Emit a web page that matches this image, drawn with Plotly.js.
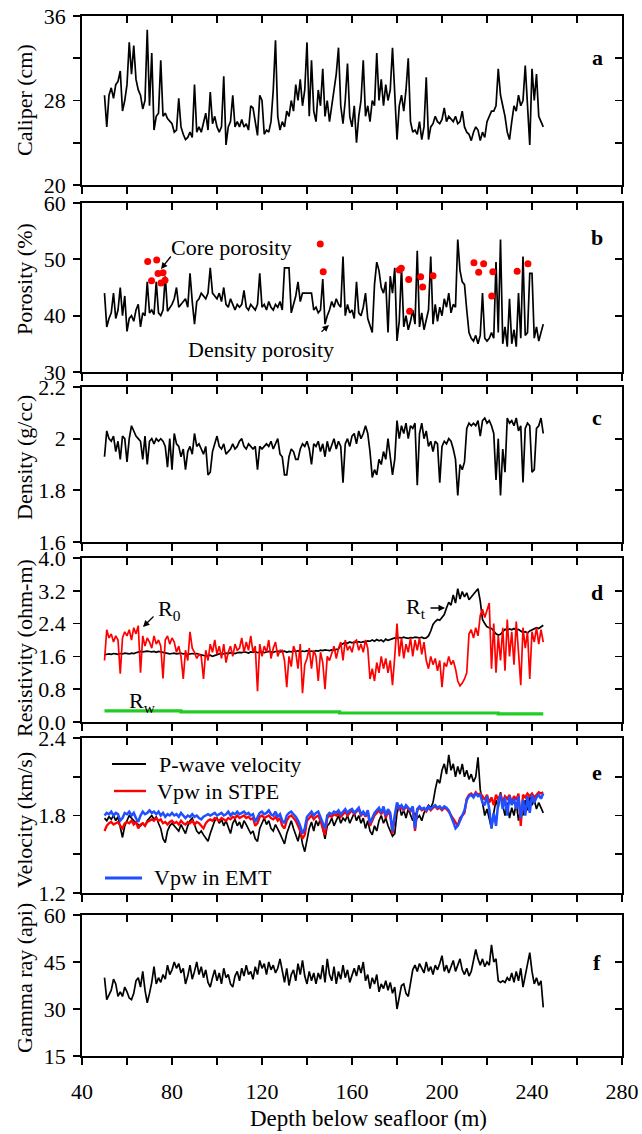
<!DOCTYPE html>
<html>
<head>
<meta charset="utf-8">
<script src="https://cdn.plot.ly/plotly-3.0.1.min.js"></script>
<style>html,body{margin:0;padding:0;background:#fff}#chart{width:642px;height:1134px}</style>
</head>
<body>
<div id="chart"></div>
<script>
// ---------------- DATA ----------------
const depth = [
 50,51,52,53,54,55,56,57,58,59, 60,61,62,63,64,65,66,67,68,69,
 70,71,72,73,74,75,76,77,78,79, 80,81,82,83,84,85,86,87,88,89,
 90,91,92,93,94,95,96,97,98,99, 100,101,102,103,104,105,106,107,108,109,
 110,111,112,113,114,115,116,117,118,119, 120,121,122,123,124,125,126,127,128,129,
 130,131,132,133,134,135,136,137,138,139, 140,141,142,143,144,145,146,147,148,149,
 150,151,152,153,154,155,156,157,158,159, 160,161,162,163,164,165,166,167,168,169,
 170,171,172,173,174,175,176,177,178,179, 180,181,182,183,184,185,186,187,188,189,
 190,191,192,193,194,195,196,197,198,199, 200,201,202,203,204,205,206,207,208,209,
 210,211,212,213,214,215,216,217,218,219, 220,221,222,223,224,225,226,227,228,229,
 230,231,232,233,234,235,236,237,238,239, 240,241,242,243,244,245
];

const caliper = [
 28.5,25.5,28.5,29.2,28.2,29.5,29.8,30.8,27.0,28.0,
 29.5,33.5,30.5,33.2,30.0,29.0,28.5,27.2,28.0,34.7,
 27.5,32.5,25.2,26.5,26.8,31.8,26.5,26.8,26.3,26.0,
 25.8,25.0,25.2,28.2,25.5,24.8,24.3,24.5,25.0,24.5,
 29.5,25.0,25.5,25.0,26.0,26.8,25.2,28.8,25.8,26.5,
 25.5,25.0,25.5,30.3,23.8,25.5,26.0,28.5,25.5,26.0,
 25.5,26.2,25.5,25.8,25.2,27.5,27.3,26.0,24.7,28.5,
 28.0,24.8,25.2,25.0,26.0,29.0,33.7,26.5,25.2,26.0,
 25.5,27.0,26.5,28.0,27.0,29.5,28.0,30.0,27.5,29.0,
 33.5,26.5,31.8,27.0,26.0,29.0,27.5,31.0,26.5,28.0,
 26.0,27.5,29.0,30.5,33.0,27.5,25.8,28.0,31.5,26.5,
 25.5,27.5,24.0,26.5,28.0,31.8,26.5,27.5,26.0,28.0,
 27.5,32.5,28.0,30.0,27.5,29.5,28.0,29.0,33.0,28.5,
 24.3,27.5,28.5,27.0,29.0,32.0,26.0,25.0,25.2,24.8,
 26.0,24.3,25.5,30.2,24.3,25.5,25.8,26.5,26.0,25.8,
 26.2,27.3,26.0,26.5,26.2,26.0,26.5,25.8,26.0,27.0,
 25.5,25.0,24.8,24.2,25.0,25.5,25.2,24.2,25.0,24.5,
 26.0,26.5,27.0,27.0,27.5,31.0,28.5,27.5,26.5,25.0,
 24.3,26.0,27.5,27.0,28.5,27.5,28.0,31.3,27.0,23.8,
 31.0,28.0,30.5,26.5,26.0,25.5
];

const densityPorosity = [
 44.0,38.0,39.5,40.5,44.0,39.5,41.0,45.0,40.0,43.5,
 37.2,39.5,40.0,39.0,41.0,42.0,38.0,40.5,40.0,46.0,
 40.5,41.0,40.2,46.0,40.5,40.0,41.0,47.0,40.8,41.5,
 42.0,43.0,45.0,41.5,42.0,42.5,43.0,41.5,47.5,42.5,
 38.5,42.5,43.0,44.0,43.5,43.0,44.0,48.5,44.0,43.5,
 43.0,44.0,42.5,45.0,42.0,41.5,43.0,42.0,41.0,42.0,
 41.5,42.0,44.5,41.5,41.0,42.0,41.5,41.0,42.0,47.5,
 41.5,42.0,41.0,42.5,41.5,41.0,42.0,41.5,42.5,41.0,
 48.5,48.5,48.5,40.5,42.0,43.5,46.0,42.5,44.0,44.0,
 44.0,44.0,44.0,41.0,41.5,40.5,41.0,46.5,38.5,40.0,
 41.0,42.5,41.5,43.0,42.0,41.5,50.5,40.0,42.0,40.5,
 41.0,39.5,46.0,40.5,40.0,41.5,44.0,39.5,38.0,37.0,
 45.5,49.5,48.0,45.0,44.0,46.0,37.0,47.0,44.0,48.5,
 35.5,39.0,48.5,38.0,40.0,37.5,39.0,41.0,38.5,51.5,
 38.0,40.5,37.5,39.5,41.0,50.5,38.5,42.0,39.0,41.5,
 40.0,43.0,41.5,44.0,40.5,42.0,41.5,53.5,48.0,46.0,
 45.5,41.0,37.0,36.0,35.5,36.5,35.0,36.5,44.0,36.0,
 35.5,36.0,37.0,36.0,49.5,37.0,53.5,35.0,38.0,34.5,
 43.0,35.0,37.5,34.5,44.0,36.0,50.5,36.5,37.0,47.5,
 47.5,36.0,38.0,35.5,37.0,38.5
];

const coreDepth = [69.2,70.9,73.2,73.8,75.1,76.0,76.9,145.9,147.2,181.0,181.9,185.2,185.6,190.5,191.4,196.0,214.2,216.3,218.5,222.1,222.6,233.4,238.2];
const corePorosity = [49.6,46.2,49.9,47.5,45.8,47.6,46.3,52.7,47.8,48.1,48.4,46.4,40.8,46.9,45.1,47.1,49.4,47.7,49.2,43.5,47.8,47.9,49.2];

const bulkDensity = [
 1.93,2.03,2.00,1.99,2.01,1.95,1.99,1.92,2.01,2.00,
 1.91,2.00,2.05,2.03,2.01,2.00,1.99,1.92,2.01,1.90,
 1.99,2.00,1.98,2.00,1.99,2.00,1.99,1.97,1.89,2.00,
 1.88,2.02,1.98,1.97,1.93,1.96,1.88,1.95,1.97,1.94,
 2.02,1.97,1.98,1.96,1.94,1.97,1.86,1.87,1.95,1.98,
 2.01,1.97,1.96,1.98,1.94,1.95,1.96,1.98,1.96,1.97,
 1.99,2.00,1.97,1.96,1.98,1.97,1.96,1.97,1.88,1.97,
 1.96,1.97,1.98,1.97,1.99,1.96,1.98,2.00,1.94,1.93,
 1.86,1.86,1.93,1.96,1.95,1.92,1.92,1.96,1.98,1.97,
 1.99,1.96,1.90,1.98,1.97,1.99,1.95,1.98,1.93,1.99,
 1.95,1.98,2.00,1.96,1.99,1.97,1.83,1.98,2.00,1.97,
 2.01,2.02,1.98,2.03,2.00,2.02,2.05,2.02,1.95,1.85,
 1.88,1.86,1.92,1.90,1.95,1.92,2.00,1.93,1.86,1.92,
 2.07,2.00,2.05,2.02,2.06,2.00,2.05,2.04,2.06,1.82,
 2.02,2.06,2.00,2.03,1.97,1.99,1.95,1.99,1.98,1.83,
 1.97,1.99,1.98,2.00,1.99,1.96,1.92,1.78,1.90,1.88,
 1.91,2.04,2.06,2.05,2.06,2.05,2.07,2.01,2.07,2.08,
 2.06,2.07,2.05,2.02,1.84,2.00,1.78,1.96,1.87,2.08,
 2.06,2.07,2.05,2.08,2.03,2.05,1.83,2.04,2.06,2.05,
 1.87,1.88,2.04,2.05,2.08,2.02
];

const resistivityRt = [
 1.64,1.65,1.66,1.65,1.67,1.66,1.65,1.67,1.66,1.68,
 1.67,1.66,1.68,1.67,1.69,1.71,1.72,1.71,1.72,1.73,
 1.72,1.71,1.72,1.70,1.72,1.71,1.70,1.68,1.67,1.66,
 1.67,1.68,1.66,1.67,1.68,1.66,1.67,1.65,1.66,1.67,
 1.66,1.67,1.65,1.64,1.62,1.61,1.62,1.63,1.60,1.62,
 1.65,1.66,1.67,1.66,1.68,1.67,1.69,1.68,1.67,1.69,
 1.70,1.69,1.71,1.70,1.68,1.71,1.70,1.72,1.69,1.70,
 1.71,1.69,1.70,1.72,1.71,1.70,1.72,1.73,1.71,1.72,
 1.73,1.70,1.72,1.71,1.73,1.72,1.74,1.71,1.73,1.72,
 1.74,1.72,1.73,1.71,1.74,1.73,1.75,1.74,1.76,1.75,
 1.74,1.76,1.75,1.77,1.78,1.88,1.92,1.94,1.92,1.95,
 1.93,1.95,1.94,1.96,1.94,1.96,1.95,1.98,1.97,2.00,
 1.97,2.01,1.98,2.00,1.96,2.02,1.99,2.01,2.03,2.05,
 2.04,2.06,2.05,2.07,2.05,2.04,2.06,2.05,2.07,2.06,
 2.05,2.07,2.04,2.05,2.10,2.22,2.38,2.45,2.50,2.48,
 2.55,2.62,2.78,2.92,2.85,3.10,2.90,3.25,3.00,3.18,
 3.05,3.15,2.98,3.05,3.12,3.20,3.25,2.95,2.50,2.40,
 2.32,2.30,2.28,2.22,2.15,2.12,2.14,2.20,2.26,2.24,
 2.27,2.25,2.28,2.24,2.26,2.22,2.18,2.20,2.17,2.22,
 2.25,2.28,2.30,2.28,2.32,2.36
];

const resistivityR0 = [
 1.50,2.25,2.05,2.15,1.95,2.10,2.00,1.18,2.05,2.20,
 2.10,2.25,2.00,2.30,2.15,2.35,1.20,2.10,1.85,2.05,
 1.95,1.80,2.10,1.90,2.00,1.85,1.06,2.00,2.10,1.90,
 2.05,1.95,1.70,1.85,1.60,1.05,1.75,1.50,2.20,1.80,
 1.70,1.55,1.65,1.60,1.05,1.75,1.50,1.90,1.70,2.00,
 1.65,1.85,1.55,1.90,1.45,1.70,1.85,1.60,1.90,1.75,
 1.80,2.05,1.70,1.95,1.75,2.10,1.70,1.85,0.75,1.90,
 1.60,1.85,1.70,2.00,1.55,1.80,1.95,1.60,1.75,1.75,
 1.50,0.85,1.60,1.35,1.85,1.70,1.30,1.90,0.70,1.40,
 1.55,1.80,1.30,1.75,1.60,1.00,1.70,1.45,0.80,1.60,
 1.50,1.70,1.85,1.55,1.80,1.95,1.50,2.00,1.75,1.85,
 1.70,1.95,2.00,1.75,1.90,1.70,2.00,1.80,1.05,1.30,
 1.00,1.45,1.20,1.60,1.30,1.55,1.20,1.50,0.90,1.60,
 2.40,1.60,2.05,1.55,1.90,1.70,2.05,1.60,2.00,1.75,
 2.05,1.65,1.95,1.50,1.30,1.60,1.40,1.55,1.25,1.50,
 0.85,1.45,1.35,1.60,1.40,1.50,1.30,1.00,0.88,0.95,
 1.05,1.20,2.15,2.25,2.05,2.30,2.10,2.60,2.75,2.55,
 2.70,2.90,1.30,2.40,1.20,2.10,1.50,2.30,1.25,2.50,
 1.60,2.20,1.40,2.45,1.70,0.90,2.30,1.80,2.20,1.05,
 2.20,1.95,2.30,1.90,2.25,1.95
];

const rwDepth = [50, 84, 84, 154.5, 154.5, 225, 225, 245];
const resistivityRw = [0.27, 0.27, 0.245, 0.245, 0.22, 0.22, 0.20, 0.20];

const pwaveVelocity = [
 1.78,1.76,1.79,1.77,1.80,1.76,1.79,1.70,1.63,1.72,
 1.76,1.80,1.78,1.76,1.74,1.73,1.72,1.74,1.72,1.76,
 1.78,1.80,1.77,1.79,1.74,1.70,1.62,1.59,1.68,1.72,
 1.74,1.72,1.70,1.68,1.73,1.70,1.66,1.72,1.76,1.78,
 1.72,1.68,1.66,1.68,1.65,1.62,1.60,1.66,1.72,1.76,
 1.78,1.74,1.77,1.72,1.76,1.70,1.66,1.74,1.77,1.72,
 1.75,1.70,1.76,1.73,1.70,1.66,1.68,1.62,1.60,1.70,
 1.74,1.78,1.73,1.76,1.70,1.68,1.73,1.70,1.66,1.62,
 1.58,1.66,1.72,1.76,1.70,1.65,1.60,1.68,1.58,1.52,
 1.62,1.70,1.75,1.68,1.76,1.72,1.78,1.70,1.62,1.72,
 1.74,1.78,1.72,1.76,1.80,1.74,1.78,1.76,1.80,1.74,
 1.78,1.82,1.76,1.80,1.74,1.78,1.70,1.76,1.68,1.65,
 1.72,1.68,1.76,1.80,1.74,1.78,1.72,1.68,1.64,1.66,
 1.82,1.88,1.80,1.84,1.78,1.85,1.80,1.76,1.82,1.78,
 1.80,1.76,1.82,1.85,1.88,1.86,1.90,2.00,2.08,2.05,
 2.15,2.20,2.12,2.27,2.15,2.20,2.10,2.18,2.12,2.20,
 2.10,2.15,2.08,2.12,2.06,2.10,2.25,2.00,1.88,1.80,
 1.85,1.76,1.70,1.82,1.92,1.86,1.98,1.88,1.80,1.90,
 1.78,1.86,1.80,1.90,1.76,1.85,1.80,1.92,1.84,1.95,
 1.88,1.92,1.85,1.90,1.86,1.82
];

const vpwSTPE = [
 1.68,1.72,1.74,1.75,1.73,1.74,1.75,1.72,1.70,1.74,
 1.75,1.74,1.76,1.73,1.75,1.70,1.73,1.74,1.72,1.75,
 1.76,1.77,1.76,1.78,1.76,1.77,1.74,1.75,1.73,1.75,
 1.76,1.74,1.75,1.73,1.76,1.74,1.73,1.75,1.74,1.76,
 1.73,1.75,1.74,1.72,1.70,1.74,1.76,1.77,1.76,1.78,
 1.77,1.76,1.78,1.77,1.76,1.78,1.77,1.79,1.78,1.80,
 1.78,1.79,1.80,1.78,1.79,1.77,1.78,1.72,1.74,1.79,
 1.80,1.78,1.79,1.80,1.78,1.77,1.79,1.76,1.78,1.72,
 1.70,1.76,1.79,1.80,1.78,1.76,1.72,1.68,1.62,1.65,
 1.76,1.78,1.80,1.77,1.79,1.80,1.76,1.70,1.65,1.78,
 1.80,1.79,1.81,1.80,1.82,1.79,1.81,1.83,1.80,1.82,
 1.84,1.81,1.83,1.85,1.80,1.82,1.79,1.83,1.72,1.76,
 1.80,1.82,1.84,1.81,1.85,1.78,1.83,1.80,1.66,1.78,
 1.88,1.85,1.86,1.84,1.87,1.85,1.83,1.86,1.68,1.84,
 1.86,1.84,1.85,1.83,1.86,1.84,1.86,1.87,1.85,1.86,
 1.84,1.86,1.85,1.83,1.80,1.78,1.74,1.72,1.78,1.80,
 1.82,1.93,1.96,1.97,1.95,1.98,1.96,1.97,1.95,1.92,
 1.96,1.90,1.94,1.88,1.96,1.92,1.97,1.90,1.95,1.93,
 1.96,1.90,1.95,1.92,1.97,1.72,1.96,1.94,1.97,1.95,
 1.97,1.94,1.96,1.98,1.97,1.98
];

const vpwEMT = [
 1.80,1.82,1.81,1.83,1.80,1.82,1.81,1.76,1.78,1.82,
 1.81,1.83,1.80,1.82,1.78,1.75,1.80,1.83,1.81,1.82,
 1.84,1.82,1.83,1.81,1.83,1.80,1.82,1.79,1.81,1.80,
 1.82,1.80,1.81,1.79,1.82,1.80,1.78,1.80,1.79,1.81,
 1.79,1.80,1.78,1.77,1.79,1.80,1.81,1.80,1.81,1.82,
 1.80,1.81,1.82,1.80,1.81,1.83,1.80,1.82,1.81,1.83,
 1.81,1.82,1.83,1.81,1.82,1.80,1.81,1.75,1.78,1.82,
 1.83,1.81,1.82,1.84,1.81,1.80,1.83,1.79,1.81,1.76,
 1.74,1.80,1.82,1.83,1.81,1.79,1.76,1.72,1.66,1.70,
 1.79,1.81,1.83,1.80,1.82,1.83,1.79,1.74,1.70,1.80,
 1.82,1.81,1.83,1.82,1.84,1.81,1.83,1.85,1.82,1.84,
 1.85,1.82,1.84,1.86,1.81,1.83,1.80,1.84,1.74,1.78,
 1.82,1.84,1.86,1.82,1.87,1.80,1.85,1.82,1.68,1.80,
 1.90,1.86,1.88,1.85,1.88,1.86,1.84,1.87,1.70,1.85,
 1.87,1.85,1.86,1.84,1.87,1.85,1.87,1.88,1.86,1.87,
 1.85,1.87,1.86,1.84,1.80,1.75,1.70,1.72,1.76,1.80,
 1.84,1.92,1.95,1.96,1.94,1.97,1.95,1.96,1.90,1.88,
 1.95,1.85,1.70,1.82,1.72,1.90,1.96,1.85,1.94,1.80,
 1.95,1.88,1.93,1.85,1.95,1.78,1.92,1.80,1.95,1.82,
 1.96,1.90,1.94,1.96,1.93,1.97
];

const gammaRay = [
 40.0,33.0,34.5,36.0,39.5,38.0,34.0,35.5,34.0,37.0,
 35.5,33.5,33.0,35.0,39.0,40.0,37.0,42.0,36.0,32.0,
 35.0,38.5,43.5,38.0,40.0,38.5,41.0,39.5,44.0,41.0,
 42.5,45.0,43.0,44.5,41.5,43.0,38.0,40.5,44.0,39.5,
 42.0,45.0,41.0,43.5,40.0,42.5,38.5,37.0,40.0,42.5,
 39.0,41.5,38.0,43.0,40.0,41.0,38.0,37.0,40.5,42.0,
 39.0,43.0,40.5,44.0,41.0,42.0,39.5,43.5,41.0,45.5,
 43.0,44.5,41.0,45.0,42.5,44.0,41.5,43.0,46.0,42.0,
 38.5,43.0,37.5,41.0,42.5,39.0,44.5,41.0,45.5,40.5,
 38.0,42.0,39.0,41.5,38.0,41.5,39.5,44.0,38.5,46.0,
 41.0,39.0,43.5,38.0,42.0,39.5,44.0,40.0,42.5,38.5,
 41.0,43.0,40.5,44.0,41.5,45.0,39.0,41.0,36.5,40.0,
 38.0,41.0,35.5,38.0,36.5,39.0,36.0,38.5,35.0,37.0,
 30.0,33.5,37.5,38.0,35.0,34.0,39.0,42.5,44.0,42.0,
 44.5,43.0,41.5,45.0,42.0,43.5,41.0,44.0,42.5,44.5,
 47.0,42.0,44.0,41.5,43.5,45.5,42.0,44.0,46.0,42.5,
 41.0,43.0,40.5,42.0,45.5,49.0,46.0,44.0,46.0,43.5,
 45.0,44.0,50.5,45.0,46.0,39.0,38.5,39.0,38.5,40.0,
 39.0,41.5,38.5,42.0,39.0,43.0,37.0,41.0,44.5,48.0,
 42.0,38.0,40.0,37.5,39.0,30.5
];

const xTickVals = [40, 80, 120, 160, 200, 240, 280];
const panelLetters = ['a', 'b', 'c', 'd', 'e', 'f'];
const yTitles = ['Caliper (cm)', 'Porosity (%)', 'Density (g/cc)', 'Resistivity (ohm-m)', 'Velocity (km/s)', 'Gamma ray (api)'];
const legendNames = ['P-wave velocity', 'Vpw in STPE', 'Vpw in EMT'];

// ---------------- LAYOUT HELPERS ----------------
const W = 642, H = 1134;
const L = 82, R = 622, T = 16, B = 1056;
const px = x => (x - L) / (R - L);
const py = y => (B - y) / (B - T);
const FONT = 'Liberation Serif, Times New Roman, serif';

const panels = [
  {top: 16,  bot: 185, range: [20, 36],  dtick: 8,   minor: 4,    fmt: '',    letterY: 58,  titleY: 100},
  {top: 203, bot: 372, range: [30, 60],  dtick: 10,  minor: null, fmt: '',    letterY: 237, titleY: 279},
  {top: 387, bot: 542, range: [1.6, 2.2],dtick: 0.2, minor: null, fmt: '',    letterY: 418, titleY: 458},
  {top: 558, bot: 722, range: [0, 4],    dtick: 0.8, minor: null, fmt: '.1f', letterY: 592, titleY: 648},
  {top: 738, bot: 893, range: [1.2, 2.4],dtick: 0.6, minor: 0.3,  fmt: '.1f', letterY: 772, titleY: 820},
  {top: 915, bot: 1056,range: [15, 60],  dtick: 15,  minor: null, fmt: '',    letterY: 962, titleY: 978}
];

const layout = {
  width: W, height: H,
  margin: {l: L, r: W - R, t: T, b: H - B, pad: 0},
  paper_bgcolor: '#fff', plot_bgcolor: '#fff',
  showlegend: false,
  font: {family: FONT, size: 21, color: '#000'},
  annotations: [], shapes: []
};

const LW = 1.8, TL = 7;
panels.forEach((p, i) => {
  const n = i + 1, o = i + 7;
  const dom = [py(p.bot), py(p.top)];
  const xs = n === 1 ? '' : n;
  const ys = n === 1 ? '' : n;
  const xBase = {
    range: [40, 280], tickmode: 'array', tickvals: xTickVals,
    showgrid: false, zeroline: false, showline: true, linecolor: '#000', linewidth: LW,
    tickcolor: '#000', tickwidth: LW, ticklen: TL,
    minor: {tickmode: 'linear', tick0: 40, dtick: 20, ticklen: TL, tickwidth: LW, tickcolor: '#000', showgrid: false},
    fixedrange: true
  };
  layout['xaxis' + xs] = Object.assign({}, xBase, {
    domain: [0, 1], anchor: 'y' + ys, ticks: 'outside', showticklabels: n === 6,
    tickfont: {family: FONT, size: 22}, ticklabelstandoff: 8
  });
  layout['xaxis' + xs].minor = Object.assign({}, xBase.minor, {ticks: 'outside'});
  layout['xaxis' + o] = Object.assign({}, xBase, {
    overlaying: 'x' + xs, side: 'top', anchor: 'y' + ys, ticks: 'inside', showticklabels: false
  });
  layout['xaxis' + o].minor = Object.assign({}, xBase.minor, {ticks: 'inside'});

  const yBase = {
    range: p.range, tickmode: 'linear', tick0: p.range[0], dtick: p.dtick,
    showgrid: false, zeroline: false, showline: true, linecolor: '#000', linewidth: LW,
    tickcolor: '#000', tickwidth: LW, ticklen: TL, fixedrange: true
  };
  if (p.minor) yBase.minor = {tickmode: 'linear', tick0: p.range[0], dtick: p.minor, ticklen: TL, tickwidth: LW, tickcolor: '#000', showgrid: false};
  layout['yaxis' + ys] = Object.assign({}, yBase, {
    domain: dom, anchor: 'x' + xs, ticks: 'outside', tickformat: p.fmt,
    tickfont: {family: FONT, size: 22}, ticklabelstandoff: 3
  });
  if (p.minor) layout['yaxis' + ys].minor = Object.assign({}, yBase.minor, {ticks: 'outside'});
  layout['yaxis' + o] = Object.assign({}, yBase, {
    domain: dom, overlaying: 'y' + ys, side: 'right', anchor: 'x' + xs, ticks: 'inside', showticklabels: false
  });
  if (p.minor) layout['yaxis' + o].minor = Object.assign({}, yBase.minor, {ticks: 'inside'});

  // panel letter
  layout.annotations.push({xref: 'paper', yref: 'paper', x: px(597), y: py(p.letterY),
    text: '<b>' + panelLetters[i] + '</b>', showarrow: false, xanchor: 'center', yanchor: 'middle',
    font: {family: FONT, size: 22, color: '#000'}});
  // y title
  layout.annotations.push({xref: 'paper', yref: 'paper', x: px(24), y: py(p.titleY),
    text: yTitles[i], textangle: -90, showarrow: false, xanchor: 'center', yanchor: 'middle',
    font: {family: FONT, size: 22, color: '#000'}});
});

// x title
layout.annotations.push({xref: 'paper', yref: 'paper', x: px(368), y: py(1118),
  text: 'Depth below seafloor (m)', showarrow: false, xanchor: 'center', yanchor: 'middle',
  font: {family: FONT, size: 23, color: '#000'}});

function textAt(x, y, text, anchor) {
  layout.annotations.push({xref: 'paper', yref: 'paper', x: px(x), y: py(y), text: text,
    showarrow: false, xanchor: anchor || 'left', yanchor: 'middle',
    font: {family: FONT, size: 22, color: '#000'}});
}
function arrowTo(tipX, tipY, ax, ay) {
  layout.annotations.push({xref: 'paper', yref: 'paper', x: px(tipX), y: py(tipY), text: '',
    showarrow: true, ax: ax, ay: ay, arrowhead: 2, arrowsize: 1, arrowwidth: 1.3, arrowcolor: '#000'});
}

// panel b annotations
textAt(231, 247, 'Core porosity', 'center');
arrowTo(161, 269, 11, -14);
textAt(261, 349, 'Density porosity', 'center');
arrowTo(329, 325, -9, 8);
// panel d annotations
textAt(156, 610, 'R<sub>0</sub>');
arrowTo(143, 627, 12, -12);
textAt(127, 702, 'R<sub>w</sub>');
textAt(404, 608, 'R<sub>t</sub>');
arrowTo(445, 608, -16, 0);
// panel e legend
const legendRows = [
  {x0: 112, x1: 146, y: 764, tx: 157, color: '#000000', w: 1.8},
  {x0: 114, x1: 146, y: 791, tx: 155, color: '#ff0000', w: 2.4},
  {x0: 105, x1: 142, y: 878, tx: 152, color: '#1f4fff', w: 2.8}
];
legendRows.forEach((r, k) => {
  layout.shapes.push({type: 'line', xref: 'paper', yref: 'paper', x0: px(r.x0), x1: px(r.x1), y0: py(r.y), y1: py(r.y),
    line: {color: r.color, width: r.w}});
  textAt(r.tx, r.y, legendNames[k]);
});

// ---------------- TRACES ----------------
const line = (x, y, ax, color, width, name) => ({
  type: 'scatter', mode: 'lines', x: x, y: y, xaxis: ax[0], yaxis: ax[1], name: name,
  line: {color: color, width: width}, hoverinfo: 'skip'
});
const traces = [
  line(depth, caliper, ['x', 'y'], '#000', 1.7, 'Caliper'),
  line(depth, densityPorosity, ['x2', 'y2'], '#000', 1.7, 'Density porosity'),
  {type: 'scatter', mode: 'markers', x: coreDepth, y: corePorosity, xaxis: 'x2', yaxis: 'y2', name: 'Core porosity',
   marker: {color: '#ff0000', size: 7}, hoverinfo: 'skip'},
  line(depth, bulkDensity, ['x3', 'y3'], '#000', 1.7, 'Density'),
  line(depth, resistivityRt, ['x4', 'y4'], '#000', 1.7, 'Rt'),
  line(depth, resistivityR0, ['x4', 'y4'], '#ff0000', 1.7, 'R0'),
  line(rwDepth, resistivityRw, ['x4', 'y4'], '#22cc22', 3.2, 'Rw'),
  line(depth, pwaveVelocity, ['x5', 'y5'], '#000', 1.7, legendNames[0]),
  line(depth, vpwSTPE, ['x5', 'y5'], '#ff0000', 2.3, legendNames[1]),
  line(depth, vpwEMT, ['x5', 'y5'], '#1f4fff', 2.5, legendNames[2]),
  line(depth, gammaRay, ['x6', 'y6'], '#000', 1.7, 'Gamma ray')
];
// empty traces to activate the mirrored (top / right) tick axes
for (let i = 1; i <= 6; i++) {
  const xs = i === 1 ? '' : i, ys = i === 1 ? '' : i;
  traces.push({type: 'scatter', mode: 'lines', x: [null], y: [null], xaxis: 'x' + (i + 6), yaxis: 'y' + ys,
    showlegend: false, hoverinfo: 'skip'});
  traces.push({type: 'scatter', mode: 'lines', x: [null], y: [null], xaxis: 'x' + xs, yaxis: 'y' + (i + 6),
    showlegend: false, hoverinfo: 'skip'});
}

Plotly.newPlot('chart', traces, layout, {displayModeBar: false, staticPlot: true});
</script>
</body>
</html>
